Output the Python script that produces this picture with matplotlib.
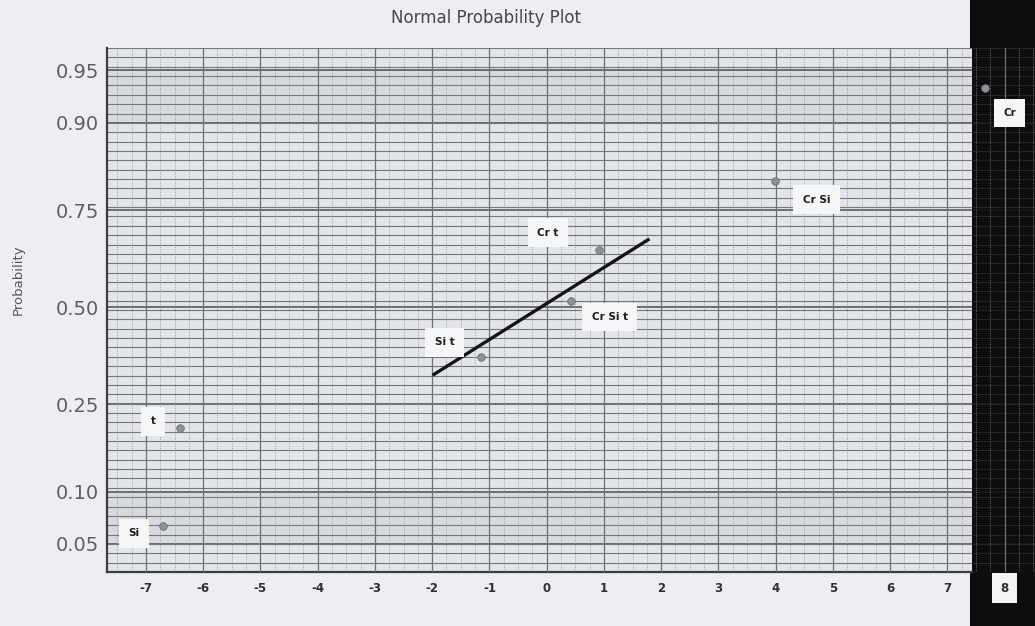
"""Normal probability plot of effects, redrawn with matplotlib."""

from statistics import NormalDist

import matplotlib
matplotlib.use("Agg")
import matplotlib.pyplot as plt
import numpy as np
from matplotlib.patches import Rectangle
from matplotlib.transforms import blended_transform_factory

# data
effects = ["Si", "t", "Si t", "Cr Si t", "Cr t", "Cr Si", "Cr"]
effect_x = [-6.70, -6.40, -1.14, 0.42, 0.91, 3.98, 7.65]
effect_p = [0.064, 0.20, 0.364, 0.517, 0.655, 0.81, 0.936]
# label offsets from the point, in pixels
label_dx = [-29, -27, -37, 39, -51, 42, 25]
label_dy = [-7, 7, 15, -16, 17, -19, -25]

fit_x = [-1.97, 1.77]
fit_p = [0.32, 0.68]

y_ticks = [0.05, 0.10, 0.25, 0.50, 0.75, 0.90, 0.95]
x_ticks = list(range(-7, 9))

nd = NormalDist()
ppf = np.vectorize(lambda p: nd.inv_cdf(min(max(p, 1e-9), 1 - 1e-9)))
cdf = np.vectorize(nd.cdf)

fig = plt.figure(figsize=(10.35, 6.26), dpi=100)
fig.patch.set_facecolor("#eceef1")
W, H = 1035, 626
X0, X1, XS = -7.68, 8.53, 7.43  # x limits and where the black strip starts

# black strip on the right side of the photo
fig.add_artist(Rectangle((970 / W, 0), 1 - 970 / W, 1, transform=fig.transFigure,
                         facecolor="#0d0d0d", edgecolor="none", zorder=-1))

ax = fig.add_axes([107 / W, (H - 572) / H, 1 - 107 / W, (572 - 48) / H])
ax.set_yscale("function", functions=(ppf, cdf))
ax.set_xlim(X0, X1)
ax.set_ylim(cdf(-1.84), cdf(1.80))
ax.patch.set_visible(False)
ax.set_axisbelow(True)
ax.xaxis.set_zorder(2.5)

blend = blended_transform_factory(ax.transData, ax.transAxes)
# light plotting area, stops where the black strip begins
ax.add_patch(Rectangle((X0, 0), XS - X0, 1, transform=blend,
                       facecolor="#e3e5e9", edgecolor="none", zorder=0.1))
# dim the horizontal grid over the black strip
ax.add_patch(Rectangle((XS, 0), X1 - XS, 1, transform=blend,
                       facecolor="#0d0d0d", edgecolor="none", alpha=0.8, zorder=0.7))
# slightly darker bands near the tails
for lo, hi in [(0.05, 0.10), (0.90, 0.95)]:
    ax.axhspan(lo, hi, xmin=0, xmax=(XS - X0) / (X1 - X0),
               color="#b9bcc2", alpha=0.25, lw=0, zorder=0.2)

ax.set_yticks(y_ticks, [f"{v:.2f}" for v in y_ticks])
ax.set_xticks(x_ticks, [str(v) for v in x_ticks])
ax.yaxis.set_minor_locator(matplotlib.ticker.FixedLocator(cdf(np.arange(-1.84, 1.81, 0.065))))
ax.xaxis.set_minor_locator(matplotlib.ticker.MultipleLocator(0.25))
ax.yaxis.set_minor_formatter(matplotlib.ticker.NullFormatter())

ax.grid(True, which="major", axis="y", color="#4a4d52", lw=1.1)
ax.grid(True, which="minor", axis="y", color="#74777d", lw=0.8)
ax.grid(True, which="major", axis="x", color="#6e7176", lw=0.9)
ax.grid(True, which="minor", axis="x", color="#8a8d92", lw=0.6, ls=":")

ax.tick_params(axis="both", which="both", length=0)
ax.tick_params(axis="y", labelsize=14, labelcolor="#5d5f63", pad=6)
ax.tick_params(axis="x", labelsize=8.5, labelcolor="#2e3034", pad=7)
for lab in ax.get_xticklabels():
    lab.set_fontweight("bold")
    if lab.get_text() == "8":
        lab.set_bbox(dict(facecolor="#f4f4f4", edgecolor="none", pad=6))

for side in ["top", "right"]:
    ax.spines[side].set_visible(False)
for side in ["left", "bottom"]:
    ax.spines[side].set_color("#3a3c40")
    ax.spines[side].set_linewidth(1.6)
ax.spines["bottom"].set_bounds(X0, XS)

ax.plot(fit_x, fit_p, color="#151515", lw=2.4, zorder=3)
ax.scatter(effect_x, effect_p, s=30, color="#8d9096", edgecolor="#6f7277",
           linewidth=0.6, zorder=4)

for name, x, p, dx, dy in zip(effects, effect_x, effect_p, label_dx, label_dy):
    ax.annotate(name, (x, p), xytext=(dx, dy), textcoords="offset pixels",
                ha="center", va="center", fontsize=7.5, fontweight="bold",
                color="#1c1c1c", annotation_clip=False, zorder=5,
                bbox=dict(boxstyle="square,pad=0.9", facecolor="#f6f6f6",
                          edgecolor="none"))

fig.text(486 / W, 1 - 18 / H, "Normal Probability Plot", ha="center", va="center",
         fontsize=12, color="#45474b")
fig.text(18 / W, 1 - 280 / H, "Probability", rotation=90, ha="center", va="center",
         fontsize=9.5, color="#55575b")

fig.savefig("out.png", dpi=100, facecolor=fig.get_facecolor())
plt.close(fig)
